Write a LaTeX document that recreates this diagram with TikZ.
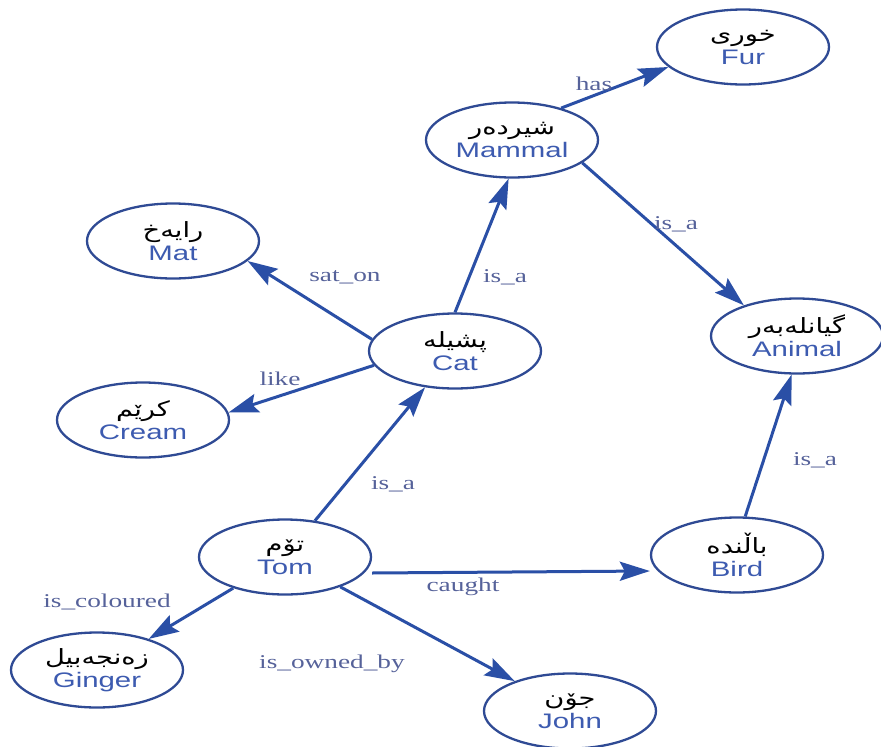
\documentclass[tikz,border=0pt]{standalone}
\usepackage{fontspec}
\usetikzlibrary{arrows.meta,shapes.geometric}
\TeXXeTstate=1
\newfontfamily\kufont[Script=Arabic,FakeStretch=1.3]{DejaVu Sans}
\newfontfamily\enfont[FakeStretch=1.4]{Liberation Sans}
\newfontfamily\lbfont[FakeStretch=1.4]{Liberation Serif}
\definecolor{edgeblue}{HTML}{2A4FA6}
\definecolor{ringblue}{HTML}{2F4A94}
\definecolor{textblue}{HTML}{3D5BB0}
\definecolor{lblgrey}{HTML}{56629A}
\newcommand{\kuT}[1]{{\color{black}\kufont\fontsize{21}{22}\selectfont\beginR #1\endR}}
\newcommand{\enT}[1]{{\color{textblue}\enfont\fontsize{21}{24}\selectfont #1}}
\tikzset{
  concept/.style={ellipse, draw=ringblue, line width=2.3pt, fill=white,
    minimum width=172pt, minimum height=75pt, inner sep=0pt, align=center,
    font=\fontsize{21}{23}\selectfont},
  rel/.style={draw=edgeblue, line width=3pt,
    -{Stealth[length=30pt,width=19pt,inset=5pt]}},
  lbl/.style={text=lblgrey, font=\lbfont\fontsize{19.5}{22}\selectfont, inner sep=1pt}
}
\begin{document}
\begin{tikzpicture}[x=1pt,y=-1pt]
\useasboundingbox (0,0) rectangle (881,747);
\fill[white] (0,0) rectangle (881,747);
% nodes
\node[concept] (Fur)    at (743,47)  {\kuT{خوری}\\\enT{Fur}};
\node[concept] (Mammal) at (512,140) {\kuT{شیردەر}\\\enT{Mammal}};
\node[concept] (Mat)    at (173,241) {\kuT{رایەخ}\\\enT{Mat}};
\node[concept] (Cat)    at (455,351) {\kuT{پشیلە}\\\enT{Cat}};
\node[concept] (Animal) at (797,336) {\kuT{گیانلەبەر}\\\enT{Animal}};
\node[concept] (Cream)  at (143,420) {\kuT{کرێم}\\\enT{Cream}};
\node[concept] (Tom)    at (285,557) {\kuT{تۆم}\\\enT{Tom}};
\node[concept] (Bird)   at (737,555) {\kuT{باڵندە}\\\enT{Bird}};
\node[concept] (Ginger) at (97,670)  {\kuT{زەنجەبیل}\\\enT{Ginger}};
\node[concept] (John)   at (570,711) {\kuT{جۆن}\\\enT{John}};
% edges
\draw[rel] (Mammal.33) -- (Fur.195);
\draw[rel] (Mammal.-18) -- (Animal.150);
\draw[rel] (Cat.north) -- (Mammal.265);
\draw[rel] (Cat.172) -- (Mat.-15);
\draw[rel] (Cat.190) -- (Cream.5);
\draw[rel] (Tom) -- (Cat);
\draw[rel] (Bird.78) -- (Animal.262);
\draw[rel] ([yshift=-16pt]Tom.east) -- ([yshift=-16pt]Bird.west);
\draw[rel] (Tom) -- (Ginger);
\draw[rel] (Tom) -- (John);
% labels
\node[lbl] (l1)  at (594,84)  {has};
\node[lbl] (l2)  at (676,224) {is\_a};
\node[lbl] (l3)  at (345,277) {sat\_on};
\node[lbl] (l4)  at (505,277) {is\_a};
\node[lbl] (l5)  at (280,379) {like};
\node[lbl] (l6)  at (393,484) {is\_a};
\node[lbl] (l7)  at (815,460) {is\_a};
\node[lbl] (l8)  at (463,587) {caught};
\node[lbl] (l9)  at (107,602) {is\_coloured};
\node[lbl] (l10) at (332,664) {is\_owned\_by};
\end{tikzpicture}
\end{document}
